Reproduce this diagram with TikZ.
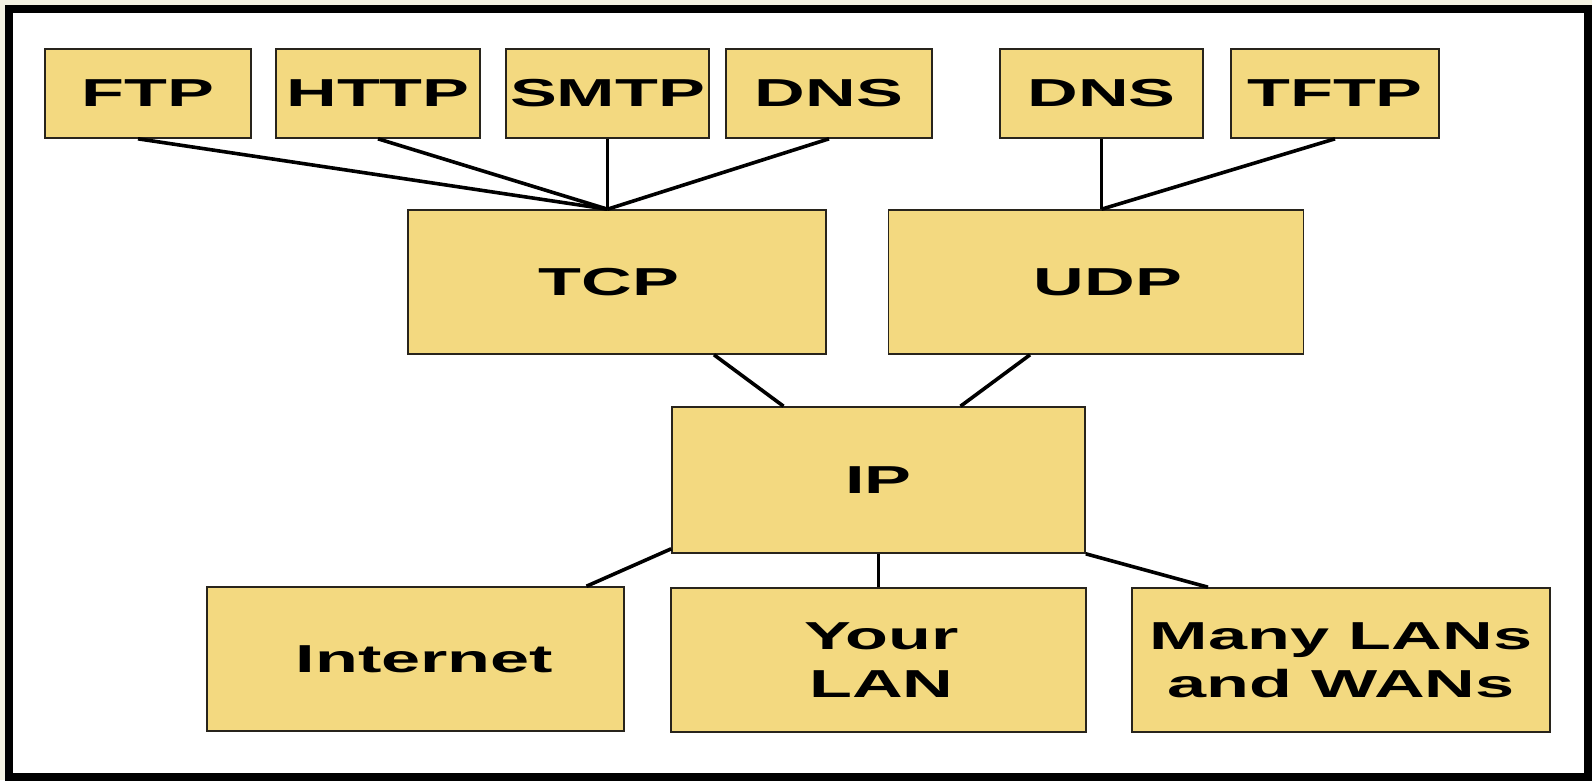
\documentclass[tikz,border=0pt]{standalone}
\usepackage{fontspec}
\newfontfamily\lblfont{Liberation Sans}[FakeStretch=1.8]
\definecolor{boxfill}{RGB}{243,217,128}
\definecolor{boxline}{RGB}{40,36,28}
\definecolor{paper}{RGB}{244,242,226}
\tikzset{
  proto/.style={draw=boxline, fill=boxfill, line width=1.6pt, inner sep=0pt,
    align=center, font=\lblfont\bfseries\fontsize{39}{48}\selectfont},
  small/.style={proto, minimum height=89pt},
  mid/.style={proto, minimum height=144pt},
  link/.style={line width=3.6pt, draw=black, line cap=butt}
}
\begin{document}
\begin{tikzpicture}[x=1pt, y=-1pt]
\useasboundingbox (0,0) rectangle (1592,780);
% page and thick frame
\fill[paper] (0,0) rectangle (1592,780);
\fill[white] (9,9) rectangle (1588,777);
\draw[line width=8pt] (9,9) rectangle (1588,777);

% application layer
\node[small, minimum width=206pt] (ftp)  at (148,93.5)    {FTP};
\node[small, minimum width=204pt] (http) at (378,93.5)    {HTTP};
\node[small, minimum width=203pt] (smtp) at (607.5,93.5)  {SMTP};
\node[small, minimum width=206pt] (dnsa) at (829,93.5)    {DNS};
\node[small, minimum width=203pt] (dnsb) at (1101.5,93.5) {DNS};
\node[small, minimum width=208pt] (tftp) at (1335,93.5)   {TFTP};

% transport layer
\node[mid, minimum width=418pt] (tcp) at (617,282)    {\raisebox{-3pt}{TCP}\hspace*{16pt}};
\node[mid, minimum width=415pt] (udp) at (1096,282)   {\hspace*{24pt}\raisebox{-3pt}{UDP}};

% internet layer
\node[mid, minimum width=413pt, minimum height=146pt] (ip) at (878.5,480) {IP};

% networks
\node[mid, minimum width=417pt] (inet) at (415.5,659) {\hspace*{18pt}Internet};
\node[mid, minimum width=415pt] (lan)  at (878.5,660) {\hspace*{6pt}Your\\\hspace*{6pt}LAN};
\node[mid, minimum width=418pt] (wan)  at (1341,660)  {Many LANs\\and WANs};

% junction points on the transport boxes
\coordinate (tcpin) at (smtp.south |- tcp.north);
\coordinate (udpin) at (dnsb.south |- udp.north);

\draw[link] ([xshift=-10pt]ftp.south) -- (tcpin);
\draw[link] (http.south) -- (tcpin);
\draw[link] (smtp.south) -- (tcpin);
\draw[link] (dnsa.south) -- (tcpin);
\draw[link] (dnsb.south) -- (udpin);
\draw[link] (tftp.south) -- (udpin);

\draw[link] ([xshift=97pt]tcp.south) -- ([xshift=-95pt]ip.north);
\draw[link] ([xshift=-66pt]udp.south) -- ([xshift=82pt]ip.north);

\draw[link] ([yshift=5pt]ip.south west) -- ([xshift=171pt]inet.north);
\draw[link] (ip.south) -- (lan.north);
\draw[link] (ip.south east) -- ([xshift=-133pt]wan.north);
\end{tikzpicture}
\end{document}
